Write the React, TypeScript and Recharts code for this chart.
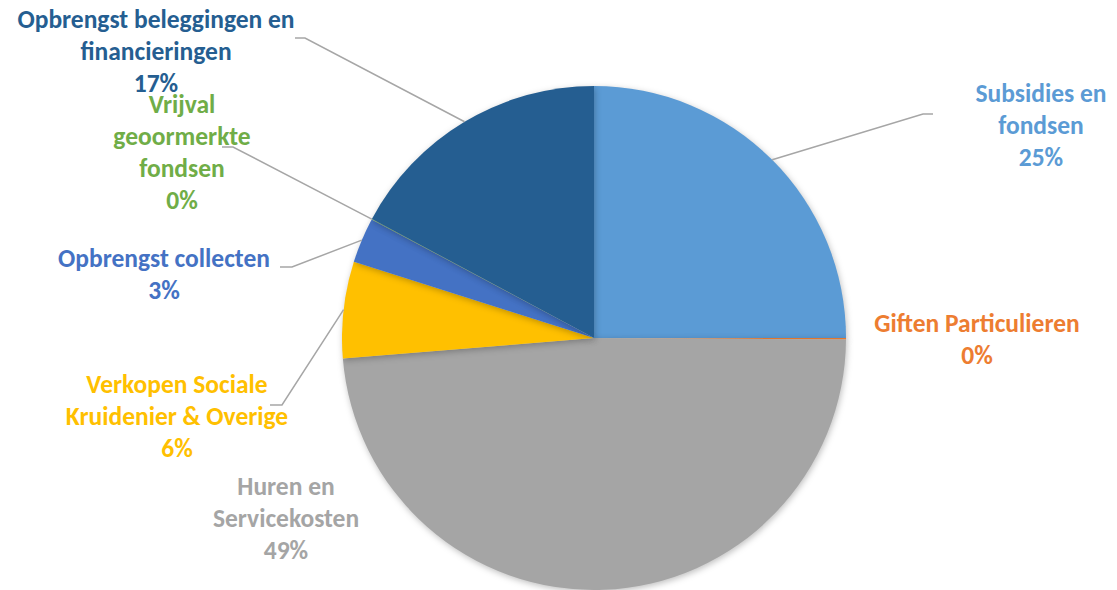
import { PieChart, Pie, Cell } from "recharts"

const categories = [
  "Subsidies en fondsen",
  "Giften Particulieren",
  "Huren en Servicekosten",
  "Verkopen Sociale Kruidenier & Overige",
  "Opbrengst collecten",
  "Vrijval geoormerkte fondsen",
  "Opbrengst beleggingen en financieringen",
]
const values = [25, 0.1, 48.6, 6.2, 2.9, 0.03, 17.17]
const colors = ["#5B9BD5", "#ED7D31", "#A5A5A5", "#FFC000", "#4472C4", "#70AD47", "#255E91"]
// how each label is broken over lines, as in the original
const labelRows = [
  ["Subsidies en", "fondsen"],
  ["Giften Particulieren"],
  ["Huren en", "Servicekosten"],
  ["Verkopen Sociale", "Kruidenier & Overige"],
  ["Opbrengst collecten"],
  ["Vrijval", "geoormerkte", "fondsen"],
  ["Opbrengst beleggingen en", "financieringen"],
]

const data = categories.map((name, i) => ({ name, value: values[i] }))

// label placement: text centre x, first baseline y, optional leader elbow [x start, x elbow, y]
const labelLayout: { x: number; y: number; leader?: [number, number, number] }[] = [
  { x: 1041, y: 102, leader: [933, 923, 114] },
  { x: 977, y: 332 },
  { x: 286, y: 495 },
  { x: 177, y: 393, leader: [270, 282, 405] },
  { x: 164, y: 267, leader: [280, 292, 267] },
  { x: 182, y: 113, leader: [222, 233, 147] },
  { x: 156, y: 28, leader: [295, 305, 38] },
]

const LINE_H = 32
const RAD = Math.PI / 180

const renderLabel = (props: any) => {
  const { cx, cy, midAngle, outerRadius, percent, index } = props
  const lay = labelLayout[index]
  const rows = [...labelRows[index], `${Math.round(percent * 100)}%`]
  let line = null
  if (lay.leader) {
    const [x0, x1, y0] = lay.leader
    const ex = cx + outerRadius * Math.cos(-midAngle * RAD)
    const ey = cy + outerRadius * Math.sin(-midAngle * RAD)
    line = (
      <polyline
        points={`${x0},${y0} ${x1},${y0} ${ex},${ey}`}
        fill="none"
        stroke="#A6A6A6"
        strokeWidth={1.5}
      />
    )
  }
  return (
    <g key={`lbl-${index}`}>
      {line}
      <text
        x={lay.x}
        y={lay.y}
        textAnchor="middle"
        fill={colors[index]}
        fontFamily="Carlito, Lato, sans-serif"
        fontWeight={700}
        fontSize={25.5}
      >
        {rows.map((r, i) => (
          <tspan key={i} x={lay.x} y={lay.y + i * LINE_H}>
            {r}
          </tspan>
        ))}
      </text>
    </g>
  )
}

export default function App() {
  return (
    <div style={{ position: "absolute", left: 0, top: 0, width: 1117, height: 590, background: "#fff" }}>
      <style>{`.recharts-pie-sector { filter: drop-shadow(1px 2px 3px rgba(0,0,0,0.25)); }`}</style>
      <PieChart width={1117} height={590} margin={{ top: 0, right: 0, bottom: 0, left: 0 }}>
        <Pie
          data={data}
          dataKey="value"
          nameKey="name"
          cx={594}
          cy={338}
          outerRadius={252}
          startAngle={90}
          endAngle={-270}
          stroke="none"
          label={renderLabel}
          labelLine={false}
          isAnimationActive={false}
        >
          {data.map((d, i) => (
            <Cell key={d.name} fill={colors[i]} />
          ))}
        </Pie>
      </PieChart>
    </div>
  )
}
